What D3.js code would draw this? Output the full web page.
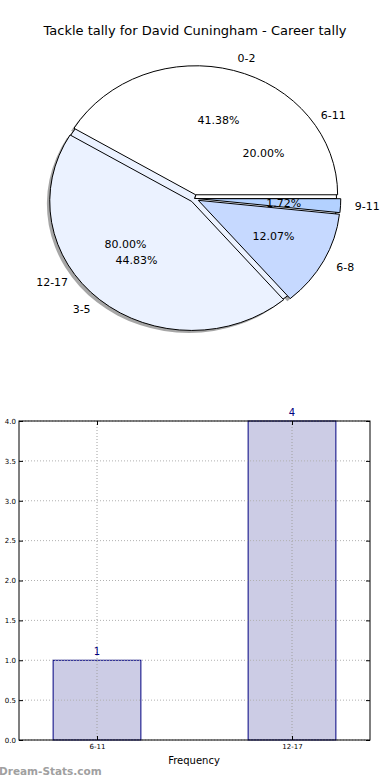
<!DOCTYPE html>
<html>
<head>
<meta charset="utf-8">
<script src="https://cdn.jsdelivr.net/npm/d3@7"></script>
<style>
  body { margin: 0; background: #fff; }
  svg { font-family: "DejaVu Sans", sans-serif; }
</style>
</head>
<body>
<div id="chart"></div>
<script>
// pie 1: tackle bands
var pieLabels = ["0-2", "3-5", "6-8", "9-11"];
var pieValues = [24, 26, 7, 1];
var piePct = ["41.38%", "44.83%", "12.07%", "1.72%"];
var pieColors = ["#ffffff", "#ebf2ff", "#c6d9ff", "#b3d1ff"];

// pie 2: drawn underneath
var pie2Labels = ["6-11", "12-17"];
var pie2Values = [1, 4];
var pie2Pct = ["20.00%", "80.00%"];
var pie2Colors = ["#ffffff", "#ebf2ff"];

// bar chart
var barCats = ["6-11", "12-17"];
var barValues = [1, 4];
var yTicks = [0, 0.5, 1, 1.5, 2, 2.5, 3, 3.5, 4];

var svgWidth = 390;
var svgHeight = 780;

var svg = d3.select("#chart")
  .append("svg")
  .attr("width", svgWidth)
  .attr("height", svgHeight);

svg.append("text")
  .attr("x", 195)
  .attr("y", 35)
  .attr("text-anchor", "middle")
  .attr("font-size", 13)
  .text("Tackle tally for David Cuningham - Career tally");

// ---- pie ----
var cx = 194.5, cy = 198.5, rx = 142, ry = 129;
var explode = 0.03;

// matplotlib style: start at 3 o'clock, counterclockwise
var pie = d3.pie().sort(null)
  .startAngle(Math.PI / 2)
  .endAngle(Math.PI / 2 - 2 * Math.PI);

var arc = d3.arc().innerRadius(0).outerRadius(rx);

var arcs1 = pie(pieValues);
var arcs2 = pie(pie2Values);

// d3 angle -> position on ellipse
function pos(a, k) {
  return [Math.sin(a) * rx * k, -Math.cos(a) * ry * k];
}
function mid(d) { return (d.startAngle + d.endAngle) / 2; }

var pieGroup = svg.append("g");

function wedgeLayer(data, colors, ex, shadow) {
  var g = pieGroup.selectAll(null)
    .data(data)
    .enter()
    .append("g")
    .attr("transform", function(d) {
      var o = pos(mid(d), ex);
      var dx = o[0] + (shadow ? -0.02 * rx : 0);
      var dy = o[1] + (shadow ? 0.02 * ry : 0);
      return `translate(${cx + dx}, ${cy + dy}) scale(1, ${ry / rx})`;
    });
  g.append("path")
    .attr("d", arc)
    .attr("fill", shadow ? "#4d4d4d" : function(d, i) { return colors[i]; })
    .attr("fill-opacity", shadow ? 0.5 : 1)
    .attr("stroke", shadow ? "none" : "#000")
    .attr("stroke-width", 1)
    .attr("vector-effect", "non-scaling-stroke");
}

// shadows under everything
wedgeLayer(arcs2, pie2Colors, 0, true);
wedgeLayer(arcs1, pieColors, explode, true);
wedgeLayer(arcs2, pie2Colors, 0, false);
wedgeLayer(arcs1, pieColors, explode, false);

function pieText(data, labels, pct, ex) {
  data.forEach(function(d, i) {
    var a = mid(d);
    var o = pos(a, ex);
    var p = pos(a, 1.1);
    var q = pos(a, 0.6);
    svg.append("text")
      .attr("x", cx + o[0] + p[0])
      .attr("y", cy + o[1] + p[1])
      .attr("dy", "0.35em")
      .attr("font-size", 11)
      .attr("text-anchor", Math.sin(a) > 0 ? "start" : "end")
      .text(labels[i]);
    svg.append("text")
      .attr("x", cx + o[0] + q[0])
      .attr("y", cy + o[1] + q[1])
      .attr("dy", "0.35em")
      .attr("font-size", 11)
      .attr("text-anchor", "middle")
      .text(pct[i]);
  });
}
pieText(arcs2, pie2Labels, pie2Pct, 0);
pieText(arcs1, pieLabels, piePct, explode);

// ---- bar chart ----
var bx0 = 19, bx1 = 370, by0 = 421, by1 = 740;

var xScale = d3.scalePoint()
  .domain(barCats)
  .range([bx0, bx1])
  .padding(0.4);
var barW = xScale.step() * 0.45;

var yScale = d3.scaleLinear()
  .domain([0, 4])
  .range([by1, by0]);

var chartGroup = svg.append("g");

// bars
chartGroup.selectAll("rect.bar")
  .data(barValues)
  .enter()
  .append("rect")
  .attr("x", (d, i) => xScale(barCats[i]) - barW / 2)
  .attr("y", d => yScale(d))
  .attr("width", barW)
  .attr("height", d => by1 - yScale(d))
  .attr("fill", "#ccccE5")
  .attr("stroke", "#000080")
  .attr("stroke-width", 1);

// grid on top of bars
chartGroup.selectAll(".hgrid")
  .data(yTicks)
  .enter()
  .append("line")
  .attr("x1", bx0).attr("x2", bx1)
  .attr("y1", d => yScale(d)).attr("y2", d => yScale(d))
  .attr("stroke", "#b0b0b0")
  .attr("stroke-dasharray", "1,2");
chartGroup.selectAll(".vgrid")
  .data(barCats)
  .enter()
  .append("line")
  .attr("x1", d => xScale(d)).attr("x2", d => xScale(d))
  .attr("y1", by0).attr("y2", by1)
  .attr("stroke", "#a0a0a0")
  .attr("stroke-dasharray", "1,2");

// value labels
chartGroup.selectAll("text.val")
  .data(barValues)
  .enter()
  .append("text")
  .attr("x", (d, i) => xScale(barCats[i]))
  .attr("y", d => yScale(d) - 5)
  .attr("text-anchor", "middle")
  .attr("font-size", 10)
  .attr("fill", "#000080")
  .text(d => d);

// axes (ticks inside, matplotlib classic)
var leftAxis = d3.axisLeft(yScale).tickValues(yTicks).tickFormat(d3.format(".1f")).tickSizeInner(-4).tickSizeOuter(0).tickPadding(3);
var rightAxis = d3.axisRight(yScale).tickValues(yTicks).tickFormat("").tickSizeInner(-4).tickSizeOuter(0);
var bottomAxis = d3.axisBottom(xScale).tickSizeInner(-4).tickSizeOuter(0).tickPadding(4);
var topAxis = d3.axisTop(xScale).tickFormat("").tickSizeInner(-4).tickSizeOuter(0);

var la = chartGroup.append("g").attr("transform", `translate(${bx0}, 0)`).call(leftAxis);
var ra = chartGroup.append("g").attr("transform", `translate(${bx1}, 0)`).call(rightAxis);
var ba = chartGroup.append("g").attr("transform", `translate(0, ${by1})`).call(bottomAxis);
var ta = chartGroup.append("g").attr("transform", `translate(0, ${by0})`).call(topAxis);

[la, ra, ba, ta].forEach(function(a) {
  a.select(".domain").remove();
  a.selectAll("text").attr("font-size", 7).attr("font-family", "DejaVu Sans").attr("fill", "#000");
  a.selectAll("line").attr("stroke", "#000");
});

chartGroup.append("rect")
  .attr("x", bx0).attr("y", by0)
  .attr("width", bx1 - bx0).attr("height", by1 - by0)
  .attr("fill", "none")
  .attr("stroke", "#000")
  .attr("stroke-width", 1);

chartGroup.append("text")
  .attr("x", 194)
  .attr("y", 764)
  .attr("text-anchor", "middle")
  .attr("font-size", 10)
  .text("Frequency");

svg.append("text")
  .attr("x", -1)
  .attr("y", 775)
  .attr("font-size", 10.5)
  .attr("font-weight", "bold")
  .attr("fill", "#a0a0a0")
  .text("Dream-Stats.com");
</script>
</body>
</html>
